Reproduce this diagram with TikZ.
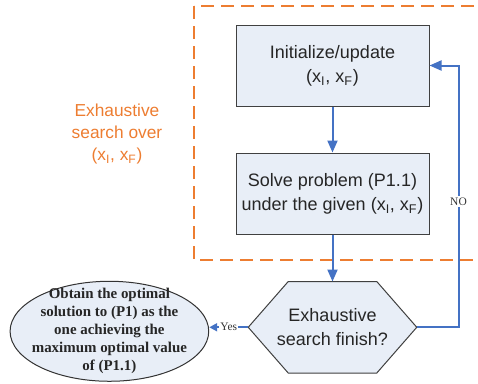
\documentclass[tikz,border=0pt]{standalone}
\usepackage{fontspec}
\setmainfont{Liberation Sans}
\newfontfamily\timesfont{Liberation Serif}
\usetikzlibrary{arrows.meta,positioning,shapes.geometric,backgrounds}
\definecolor{flowblue}{RGB}{68,114,196}
\definecolor{boxfill}{RGB}{232,238,247}
\definecolor{srchorange}{RGB}{237,125,49}
\newcommand{\xpair}{(x\textsubscript{I}, x\textsubscript{F})}

\begin{document}
\begin{tikzpicture}[x=0.75pt,y=-0.75pt,
    >={Triangle[length=9pt,width=7.5pt]},
    font=\fontsize{13.5}{18}\selectfont,
    blk/.style={draw=black!75,fill=boxfill,line width=0.75pt,text=black!85,
                minimum width=144.75pt,minimum height=60.75pt,align=center},
    hexa/.style={text=black!85,inner sep=1pt,
                 minimum width=126pt,minimum height=68.25pt,align=center},
    hexline/.style={draw=black!75,fill=boxfill,line width=0.75pt},
    ell/.style={draw=black!80,fill=boxfill,line width=0.75pt,shape=ellipse,
                inner xsep=-5.5pt,inner ysep=-6pt,align=center,text=black!85,
                minimum width=148.5pt,minimum height=75pt,
                font=\timesfont\bfseries\fontsize{11.2}{13.5}\selectfont},
    flow/.style={->,draw=flowblue,line width=1.5pt},
    lbl/.style={font=\timesfont\fontsize{8.6}{10}\selectfont,fill=white,
                inner sep=1pt,text=black!80}]
  \useasboundingbox (0,0) rectangle (478,383);
  % search region
  \draw[srchorange,line width=1.5pt,dash pattern=on 10pt off 5pt] (194,6) rectangle (490,260);
  \node[text=srchorange,align=center,font=\fontsize{13}{16.5}\selectfont] (over) at (117,134)
    {Exhaustive\\search over\\\xpair};
  \node[blk] (init) at (332.5,65.5) {Initialize/update\\\xpair};
  \node[blk,below=34.5pt of init] (solve) {Solve problem (P1.1)\\under the given \xpair};
  \node[hexa,below=35.25pt of solve] (fin) {Exhaustive\\search finish?};
  \begin{scope}[on background layer]
    \draw[hexline] (fin.west) -- ([xshift=30pt]fin.north west) -- ([xshift=-30pt]fin.north east)
      -- (fin.east) -- ([xshift=-30pt]fin.south east) -- ([xshift=30pt]fin.south west) -- cycle;
  \end{scope}
  \node[ell,left=29.25pt of fin,yshift=-3pt] (opt) {Obtain the optimal\\solution to (P1) as the\\one achieving the\\maximum optimal value\\of (P1.1)};
  \coordinate[right=21.75pt of init.east] (back);
  \draw[flow] (init) -- (solve);
  \draw[flow] (solve) -- (fin);
  \draw[flow] (fin.east) -| node[lbl,pos=0.74]{NO} (back) -- (init.east);
  \draw[flow,-{Triangle[length=6pt,width=6pt]}] (fin.west) -- node[lbl]{Yes} (fin.west -| opt.east);
\end{tikzpicture}
\end{document}
